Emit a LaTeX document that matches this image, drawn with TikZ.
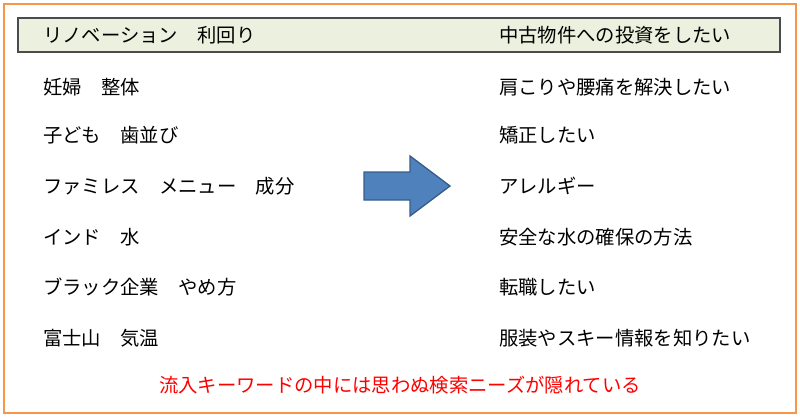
\documentclass[tikz,border=0pt]{standalone}
\usepackage{fontspec}
\setmainfont{Noto Sans CJK JP}
\usepackage{tikz}
\definecolor{frameorange}{RGB}{247,150,70}
\definecolor{headgreen}{RGB}{235,241,222}
\definecolor{arrowblue}{RGB}{79,129,189}
\definecolor{arrowedge}{RGB}{56,93,138}
\tikzset{lefttext/.style={anchor=west,inner sep=0.75pt,font=\fontsize{14.5}{17}\selectfont},
  righttext/.style={anchor=west,inner sep=0.75pt,font=\fontsize{14.5}{17}\selectfont}}
\begin{document}
\begin{tikzpicture}[x=0.75pt,y=0.75pt,yscale=-1,xscale=1]
\useasboundingbox (0,0) rectangle (800,418);
%Outer frame
\draw [draw=frameorange, line width=1.5] (4,4) rectangle (796,413);
%Header bar
\draw [fill=headgreen, draw=black!70, line width=1.2] (18,18) rectangle (780,52);
\node [lefttext] (h1) at (42,35) {リノベーション\quad 利回り};
\node [righttext] (h2) at (498,35) {中古物件への投資をしたい};
% Rows
\node [lefttext] (l1) at (42,87) {妊婦\quad 整体};
\node [lefttext] (l2) at (42,135) {子ども\quad 歯並び};
\node [lefttext] (l3) at (42,186) {ファミレス\quad メニュー\quad 成分};
\node [lefttext] (l4) at (42,237) {インド\quad 水};
\node [lefttext] (l5) at (42,287) {ブラック企業\quad やめ方};
\node [lefttext] (l6) at (42,338) {富士山\quad 気温};
\node [righttext] (r1) at (498,87) {肩こりや腰痛を解決したい};
\node [righttext] (r2) at (498,135) {矯正したい};
\node [righttext] (r3) at (498,186) {アレルギー};
\node [righttext] (r4) at (498,237) {安全な水の確保の方法};
\node [righttext] (r5) at (498,287) {転職したい};
\node [righttext] (r6) at (498,338) {服装やスキー情報を知りたい};
%Block arrow
\draw [fill=arrowblue, draw=arrowedge, line width=1] (364,172) -- (410,172) -- (410,156) -- (450,186) -- (410,216) -- (410,200) -- (364,200) -- cycle;
% Footer
\node [text=red, inner sep=0.75pt, font=\fontsize{14.5}{17}\selectfont] (foot) at (400,385) {流入キーワードの中には思わぬ検索ニーズが隠れている};
\end{tikzpicture}
\end{document}
